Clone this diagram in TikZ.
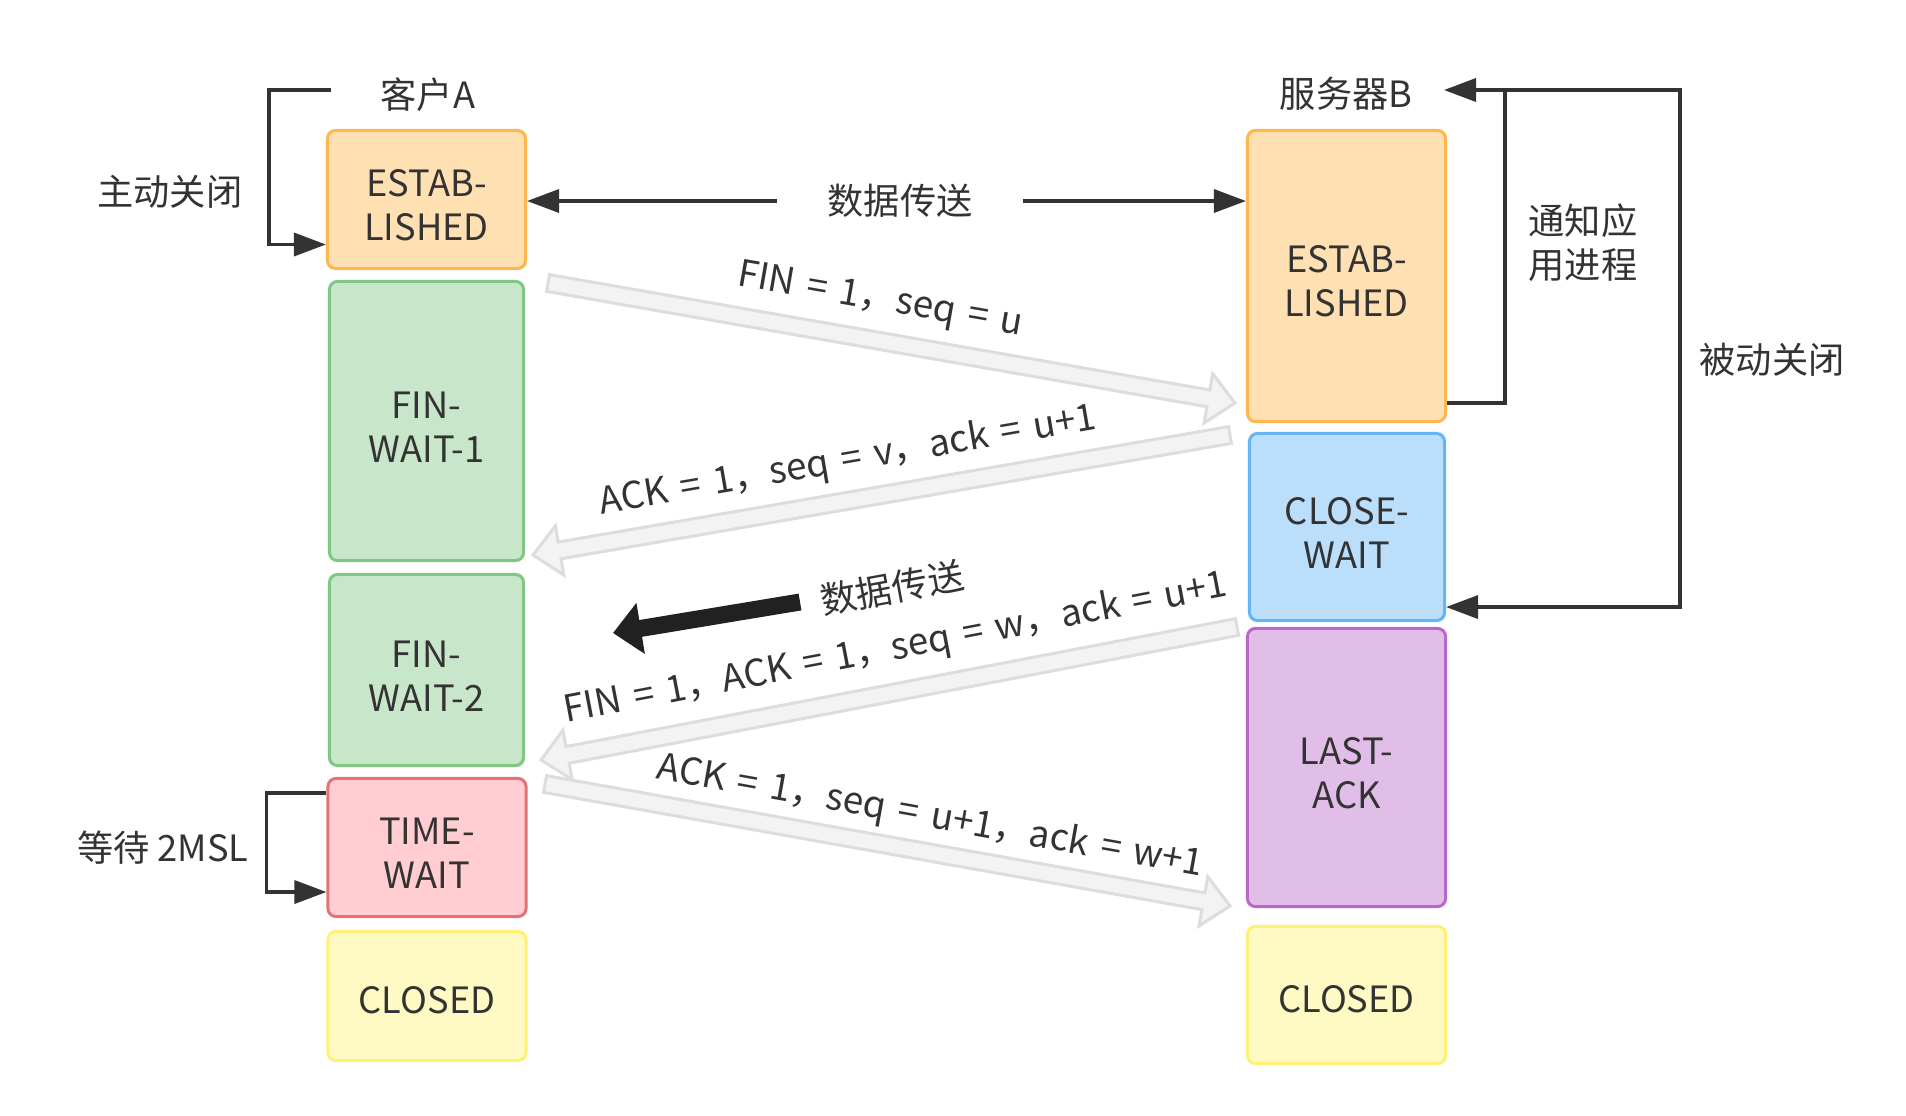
\documentclass[tikz,border=0pt]{standalone}
\usepackage{fontspec}
\setmainfont{Noto Sans CJK SC}
\newfontfamily\msgfont[WordSpace=1.5]{Noto Sans CJK SC}
\usetikzlibrary{arrows.meta,calc}
\definecolor{txt}{HTML}{333333}
\definecolor{orgF}{HTML}{FFE0B2}
\definecolor{orgD}{HTML}{FFB74D}
\definecolor{grnF}{HTML}{C8E6C9}
\definecolor{grnD}{HTML}{81C784}
\definecolor{bluF}{HTML}{BBDEFB}
\definecolor{bluD}{HTML}{64B5F6}
\definecolor{purF}{HTML}{E1BEE7}
\definecolor{purD}{HTML}{BA68C8}
\definecolor{redF}{HTML}{FFCDD2}
\definecolor{redD}{HTML}{E57373}
\definecolor{yelF}{HTML}{FFF9C4}
\definecolor{yelD}{HTML}{FFF176}
\definecolor{pipeF}{HTML}{F3F3F3}
\definecolor{pipeD}{HTML}{DDDDDD}
\newcommand{\pipearrow}[2]{%
	\coordinate (hb) at ($(#2)!0.27cm!(#1)$);
	\draw[pipe] ($(#1)!0.085cm!90:(#2)$) -- ($(hb)!0.085cm!90:(#2)$) -- ($(hb)!0.25cm!90:(#2)$) -- (#2) -- ($(hb)!0.25cm!-90:(#2)$) -- ($(hb)!0.085cm!-90:(#2)$) -- ($(#1)!0.085cm!-90:(#2)$) -- cycle;}
\begin{document}
\begin{tikzpicture}[x=0.01cm, y=-0.01cm, font=\fontsize{10.3pt}{12.5pt}\selectfont, line join=round, line cap=round, >={Triangle[length=3.2mm,width=2.3mm]},
	box/.style={draw, rounded corners=0.08cm, line width=0.03cm, align=center, inner sep=0pt, text=txt, minimum width=1.98cm, text height=0.82cm},
	endbox/.style={box, draw=yelD, fill=yelF, text height=0.355cm},
	lbl/.style={text=txt, inner sep=1pt},
	msg/.style={text=txt, inner sep=1pt, font=\msgfont\fontsize{10.5pt}{12.5pt}\selectfont},
	flow/.style={->, draw=txt, line width=0.035cm, line cap=butt, line join=miter},
	pipe/.style={fill=pipeF, draw=pipeD, line width=0.03cm, line join=miter}];
			\fill[white] (0,0) rectangle (1906,1115);
			\useasboundingbox (0,0) rectangle (1906,1115);
			\node[lbl] (tA) at (428,95) {客户A};
			\node[lbl] (tB) at (1346,94) {服务器B};
			\node[box, draw=orgD, fill=orgF, minimum height=1.38cm] (estA) at (426.5,199.5) {ESTAB-\\LISHED};
			\node[box, draw=grnD, fill=grnF, minimum width=1.94cm, minimum height=2.79cm] (fw1) at (426.5,421) {FIN-\\WAIT-1};
			\node[box, draw=grnD, fill=grnF, minimum width=1.94cm, minimum height=1.91cm] (fw2) at (426.5,670) {FIN-\\WAIT-2};
			\node[box, draw=redD, fill=redF, minimum height=1.38cm] (tw) at (427,847.5) {TIME-\\WAIT};
			\node[endbox, minimum height=1.29cm] (clA) at (427,996) {CLOSED};
			\node[box, draw=orgD, fill=orgF, minimum height=2.91cm] (estB) at (1346.5,276) {ESTAB-\\LISHED};
			\node[box, draw=bluD, fill=bluF, minimum width=1.95cm, minimum height=1.87cm] (cw) at (1347,527) {CLOSE-\\WAIT};
			\node[box, draw=purD, fill=purF, minimum height=2.78cm] (la) at (1346.5,767.5) {LAST-\\ACK};
			\node[endbox, minimum height=1.37cm] (clB) at (1346.5,995) {CLOSED};
			\node[lbl] (l1) at (170,192) {主动关闭};
			\node[lbl] (l2) at (163,848) {等待 2MSL};
			\node[lbl, align=center] (l3) at (1583,243) {通知应\\用进程};
			\node[lbl] (l4) at (1772,360) {被动关闭};
			\coordinate (ac) at (331,90);
			\draw[flow] (ac) -- ++(-62,0) |- ([yshift=-0.45cm]estA.west);
			\draw[flow] ([yshift=0.545cm]tw.west) -- ++(-60,0) |- ([yshift=-0.445cm]tw.west);
			\coordinate (nt) at (1444,90);
			\coordinate (pc) at (1505,90);
			\draw[flow] ([yshift=-1.27cm]estB.east) -- ++(58,0) |- (nt);
			\draw[flow] (pc) -- ++(175,0) |- ([yshift=-0.8cm]cw.east);
			\node[lbl, inner xsep=0.5cm] (data1) at (900,201) {数据传送};
			\draw[flow] (data1) -- (data1 -| estA.east);
			\draw[flow] (data1) -- (data1 -| estB.west);
			\coordinate (p1s) at (548,283);
			\coordinate (p1e) at (1235,403);
			\coordinate (p2s) at (1230,435);
			\coordinate (p2e) at (533,555);
			\coordinate (p3s) at (1237,627);
			\coordinate (p3e) at (541,760);
			\coordinate (p4s) at (545,784);
			\coordinate (p4e) at (1230,906);
			\pipearrow{p1s}{p1e}
			\pipearrow{p2s}{p2e}
			\pipearrow{p3s}{p3e}
			\pipearrow{p4s}{p4e}
			\node[msg, rotate=-9.9] (m1) at (880,301) {FIN = 1，seq = u};
			\node[msg, rotate=9.8] (m2) at (848,461) {ACK = 1，seq = v，ack = u+1};
			\node[msg, rotate=10.8] (m3) at (896,649) {FIN = 1，ACK = 1，seq = w，ack = u+1};
			\node[msg, rotate=-10.1] (m4) at (930,817) {ACK = 1，seq = u+1，ack = w+1};
			\node[lbl, rotate=10.5] (data2) at (892,588) {数据传送};
			\coordinate (bk1) at (800,602);
			\coordinate (bk2) at (613,633);
			\draw[-{Triangle[length=2.8mm,width=5mm]}, line width=0.17cm, line cap=butt, draw=black!87] (bk1) -- (bk2);
		\end{tikzpicture}
\end{document}
